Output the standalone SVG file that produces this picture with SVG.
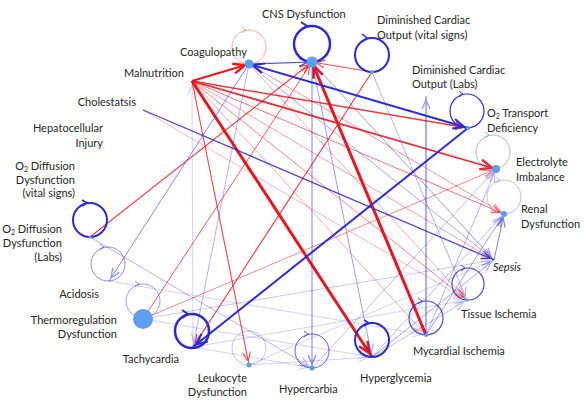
<svg xmlns="http://www.w3.org/2000/svg" width="584" height="400" viewBox="0 0 584 400">
<style>
text { font-family: Lato, "Liberation Sans", sans-serif; font-size: 11px; fill: #262626; }
.e { text-anchor: end; }
.sub { font-size: 7px; }
.r { stroke: #e8171f; fill: none; }
.b { stroke: #2b2bd6; fill: none; }
.dot { fill: #5e9ded; }
.lp { fill: none; stroke: #2b2bd6; }
</style>
<defs>
<marker id="mr" markerUnits="userSpaceOnUse" markerWidth="20" markerHeight="20" refX="13" refY="4" orient="auto" overflow="visible"><path d="M0,0 L9,4 L0,8" fill="none" stroke="#e8171f" stroke-width="1.2"/></marker>
<marker id="mR" markerUnits="userSpaceOnUse" markerWidth="24" markerHeight="24" refX="16" refY="5" orient="auto" overflow="visible"><path d="M0,0 L12,5 L0,10" fill="none" stroke="#e8171f" stroke-width="2.5"/></marker>
<marker id="mb" markerUnits="userSpaceOnUse" markerWidth="20" markerHeight="20" refX="13" refY="4" orient="auto-start-reverse" overflow="visible"><path d="M0,0 L9,4 L0,8" fill="none" stroke="#2b2bd6" stroke-width="1.2"/></marker>
<marker id="mB" markerUnits="userSpaceOnUse" markerWidth="24" markerHeight="24" refX="15" refY="5" orient="auto-start-reverse" overflow="visible"><path d="M0,0 L11,5 L0,10" fill="none" stroke="#2b2bd6" stroke-width="2"/></marker>
</defs>

<g id="connectors">
<!-- red -->
<line class="r" x1="192" y1="81" x2="372" y2="357" stroke-width="3" marker-end="url(#mR)"/>
<line class="r" x1="426" y1="335" x2="312" y2="62" stroke-width="3" marker-end="url(#mR)"/>
<line class="r" x1="192" y1="81" x2="249" y2="64" stroke-width="2" marker-end="url(#mR)"/>
<line class="r" x1="192" y1="81" x2="496" y2="169" stroke-width="1.8" opacity="0.9" marker-end="url(#mR)"/>
<line class="r" x1="192" y1="81" x2="468" y2="128" stroke-width="1.5" opacity="0.85" marker-end="url(#mr)"/>
<line class="r" x1="192" y1="81" x2="249" y2="365" stroke-width="1.2" opacity="0.75" marker-end="url(#mr)"/>
<line class="r" x1="90" y1="237" x2="312" y2="62" stroke-width="1.2" opacity="0.8" marker-end="url(#mr)"/>
<line class="r" x1="372" y1="72" x2="193" y2="347" stroke-width="1.2" opacity="0.8" marker-end="url(#mr)"/>
<line class="r" x1="372" y1="72" x2="312" y2="62" stroke-width="1.2" opacity="0.75" marker-end="url(#mr)"/>
<line class="r" x1="143" y1="319" x2="312" y2="62" stroke-width="1" opacity="0.7" marker-end="url(#mr)"/>
<line class="r" x1="143" y1="319" x2="496" y2="169" stroke-width="1" opacity="0.5" marker-end="url(#mr)"/>
<line class="r" x1="192" y1="81" x2="504" y2="214" stroke-width="1" opacity="0.6" marker-end="url(#mr)"/>
<line class="r" x1="192" y1="81" x2="467" y2="300" stroke-width="1" opacity="0.5" marker-end="url(#mr)"/>
<line class="r" x1="192" y1="81" x2="494" y2="260" stroke-width="1" opacity="0.4" marker-end="url(#mr)"/>
<line class="r" x1="249" y1="64" x2="504" y2="214" stroke-width="1" opacity="0.45" marker-end="url(#mr)"/>
<line class="r" x1="249" y1="64" x2="467" y2="300" stroke-width="1" opacity="0.35" marker-end="url(#mr)"/>
<line class="r" x1="192" y1="81" x2="426" y2="335" stroke-width="1" opacity="0.35" marker-end="url(#mr)"/>
<line class="r" x1="143" y1="110" x2="467" y2="300" stroke-width="1" opacity="0.3" marker-end="url(#mr)"/>
<!-- blue -->
<line class="b" x1="249" y1="64" x2="468" y2="128" stroke-width="2" marker-start="url(#mB)" marker-end="url(#mB)"/>
<line class="b" x1="468" y1="128" x2="193" y2="347" stroke-width="2" marker-end="url(#mB)"/>
<line class="b" x1="143" y1="110" x2="494" y2="260" stroke-width="1.3" opacity="0.85" marker-end="url(#mb)"/>
<line class="b" x1="249" y1="64" x2="312" y2="62" stroke-width="1.2" opacity="0.85" marker-end="url(#mb)"/>
<line class="b" x1="426" y1="335" x2="426" y2="96" stroke-width="1.5" opacity="0.5" marker-end="url(#mb)"/>
<line class="b" x1="312" y1="62" x2="312" y2="368" stroke-width="1" opacity="0.6" marker-end="url(#mb)"/>
<line class="b" x1="249" y1="64" x2="109" y2="281" stroke-width="1" opacity="0.55" marker-end="url(#mb)"/>
<line class="b" x1="193" y1="347" x2="192" y2="81" stroke-width="1" opacity="0.2" marker-end="url(#mb)"/>
<line class="b" x1="494" y1="260" x2="504" y2="214" stroke-width="1" opacity="0.6" marker-end="url(#mb)"/>
<line class="b" x1="426" y1="335" x2="504" y2="214" stroke-width="1" opacity="0.45" marker-end="url(#mb)"/>
<line class="b" x1="312" y1="62" x2="494" y2="260" stroke-width="1" opacity="0.45" marker-end="url(#mb)"/>
<line class="b" x1="372" y1="357" x2="494" y2="260" stroke-width="1" opacity="0.4" marker-end="url(#mb)"/>
<line class="b" x1="90" y1="237" x2="312" y2="368" stroke-width="1" opacity="0.35" marker-end="url(#mb)"/>
<line class="b" x1="143" y1="319" x2="494" y2="260" stroke-width="1" opacity="0.25" marker-end="url(#mb)"/>
<line class="b" x1="312" y1="62" x2="372" y2="357" stroke-width="1" opacity="0.45" marker-end="url(#mb)"/>
<line class="b" x1="249" y1="64" x2="494" y2="260" stroke-width="1" opacity="0.4" marker-end="url(#mb)"/>
<line class="b" x1="312" y1="368" x2="496" y2="169" stroke-width="1" opacity="0.3" marker-end="url(#mb)"/>
<line class="b" x1="372" y1="357" x2="504" y2="214" stroke-width="1" opacity="0.3" marker-end="url(#mb)"/>
<line class="b" x1="372" y1="357" x2="467" y2="300" stroke-width="1" opacity="0.3" marker-end="url(#mb)"/>
<line class="b" x1="249" y1="365" x2="494" y2="260" stroke-width="1" opacity="0.2" marker-end="url(#mb)"/>
<line class="b" x1="193" y1="347" x2="467" y2="300" stroke-width="1" opacity="0.2" marker-end="url(#mb)"/>
<line class="b" x1="109" y1="281" x2="426" y2="335" stroke-width="1" opacity="0.2" marker-end="url(#mb)"/>
<line class="b" x1="249" y1="64" x2="193" y2="347" stroke-width="1" opacity="0.35" marker-end="url(#mb)"/>
<line class="b" x1="143" y1="319" x2="372" y2="357" stroke-width="1" opacity="0.2" marker-end="url(#mb)"/>
<line class="b" x1="193" y1="347" x2="312" y2="368" stroke-width="1" opacity="0.2" marker-end="url(#mb)"/>
<line class="b" x1="249" y1="365" x2="372" y2="357" stroke-width="1" opacity="0.2" marker-end="url(#mb)"/>
<line class="b" x1="426" y1="335" x2="496" y2="169" stroke-width="1" opacity="0.35" marker-end="url(#mb)"/>
<line class="b" x1="372" y1="72" x2="467" y2="300" stroke-width="1" opacity="0.35" marker-end="url(#mb)"/>
</g>

<g id="coagulopathy">
<circle cx="249" cy="47" r="17" class="lp" style="stroke:#e8171f" stroke-width="1" opacity="0.35"/>
<path d="M242,27 L246,30 L242,33" class="lp" style="stroke:#e8171f" opacity="0.35"/>
<circle cx="249" cy="64" r="4.5" class="dot"/>
<text x="180" y="56">Coagulopathy</text>
</g>
<g id="cns">
<circle cx="312" cy="44" r="18" class="lp" stroke-width="2.5"/>
<path d="M301,22 L307,26 L301,30" class="lp" stroke-width="2"/>
<circle cx="312" cy="62" r="5.5" class="dot"/>
<text x="262" y="18">CNS Dysfunction</text>
</g>
<g id="dco-vital">
<circle cx="372" cy="55" r="17" class="lp" stroke-width="2"/>
<path d="M362,34 L367,38 L362,42" class="lp" stroke-width="1.6"/>
<circle cx="372" cy="72" r="2" class="dot"/>
<text x="377" y="24">Diminished Cardiac</text>
<text x="377" y="39">Output (vital signs)</text>
</g>
<g id="dco-labs">
<text x="412" y="74">Diminished Cardiac</text>
<text x="412" y="88">Output (Labs)</text>
</g>
<g id="o2-transport">
<circle cx="467" cy="111" r="17" class="lp" stroke-width="1.2"/>
<path d="M459,91 L463,94 L459,97" class="lp" stroke-width="1"/>
<circle cx="468" cy="128" r="2" class="dot"/>
<text x="487" y="117">O<tspan class="sub" baseline-shift="-2">2</tspan> Transport</text>
<text x="487" y="132">Deficiency</text>
</g>
<g id="electrolyte">
<circle cx="493" cy="152" r="17" class="lp" stroke-width="1" opacity="0.35"/>
<path d="M485,132 L489,135 L485,138" class="lp" opacity="0.35"/>
<circle cx="496" cy="169" r="4" class="dot"/>
<text x="516" y="166">Electrolyte</text>
<text x="516" y="181">Imbalance</text>
</g>
<g id="renal">
<circle cx="504" cy="197" r="17" class="lp" stroke-width="1" opacity="0.3"/>
<path d="M496,177 L500,180 L496,183" class="lp" opacity="0.3"/>
<circle cx="504" cy="214" r="3" class="dot"/>
<text x="521" y="213">Renal</text>
<text x="521" y="228">Dysfunction</text>
</g>
<g id="sepsis">
<text x="493" y="271" font-style="italic">Sepsis</text>
</g>
<g id="tissue-ischemia">
<circle cx="468" cy="284" r="16" class="lp" stroke-width="1.2" opacity="0.85"/>
<path d="M461,265 L465,268 L461,271" class="lp" opacity="0.85"/>
<circle cx="467" cy="300" r="1.5" class="dot"/>
<text x="461" y="318">Tissue Ischemia</text>
</g>
<g id="mycardial-ischemia">
<circle cx="426" cy="318" r="17" class="lp" stroke-width="1.2" opacity="0.85"/>
<path d="M418,298 L422,301 L418,304" class="lp" opacity="0.85"/>
<circle cx="426" cy="335" r="2" class="dot"/>
<text x="413" y="355">Mycardial Ischemia</text>
</g>
<g id="hyperglycemia">
<circle cx="372" cy="340" r="17" class="lp" stroke-width="2"/>
<path d="M364,320 L369,323 L364,326" class="lp" stroke-width="1.5"/>
<text x="360" y="382">Hyperglycemia</text>
</g>
<g id="hypercarbia">
<circle cx="312" cy="351" r="17" class="lp" stroke-width="1" opacity="0.75"/>
<path d="M304,331 L308,334 L304,337" class="lp" opacity="0.75"/>
<circle cx="312" cy="368" r="2.5" class="dot"/>
<text x="279" y="393">Hypercarbia</text>
</g>
<g id="leukocyte">
<circle cx="249" cy="348" r="17" class="lp" stroke-width="1" opacity="0.3"/>
<circle cx="249" cy="365" r="2.5" class="dot"/>
<text x="247" y="382" class="e">Leukocyte</text>
<text x="247" y="396" class="e">Dysfunction</text>
</g>
<g id="tachycardia">
<circle cx="192" cy="331" r="17" class="lp" stroke-width="2.5"/>
<path d="M182,310 L188,314 L182,318" class="lp" stroke-width="2"/>
<text x="179" y="363" class="e">Tachycardia</text>
</g>
<g id="thermoregulation">
<circle cx="143" cy="301" r="17" class="lp" stroke-width="1" opacity="0.45"/>
<path d="M135,281 L139,284 L135,287" class="lp" opacity="0.45"/>
<circle cx="143" cy="319" r="10" class="dot"/>
<text x="117" y="324" class="e">Thermoregulation</text>
<text x="117" y="338" class="e">Dysfunction</text>
</g>
<g id="acidosis">
<circle cx="108" cy="264" r="17" class="lp" stroke-width="1" opacity="0.55"/>
<path d="M100,244 L104,247 L100,250" class="lp" opacity="0.55"/>
<text x="99" y="298" class="e">Acidosis</text>
</g>
<g id="o2-diffusion-labs">
<circle cx="90" cy="220" r="17" class="lp" stroke-width="2"/>
<path d="M82,200 L87,203 L82,206" class="lp" stroke-width="1.6"/>
<circle cx="90" cy="237" r="1.5" class="dot"/>
<text x="62" y="233" class="e">O<tspan class="sub" baseline-shift="-2">2</tspan> Diffusion</text>
<text x="62" y="247" class="e">Dysfunction</text>
<text x="62" y="261" class="e">(Labs)</text>
</g>
<g id="o2-diffusion-vital">
<text x="75" y="170" class="e">O<tspan class="sub" baseline-shift="-2">2</tspan> Diffusion</text>
<text x="75" y="184" class="e">Dysfunction</text>
<text x="75" y="197" class="e">(vital signs)</text>
</g>
<g id="hepatocellular">
<text x="103" y="132" class="e">Hepatocellular</text>
<text x="103" y="147" class="e">Injury</text>
</g>
<g id="cholestatsis">
<text x="136" y="106" class="e">Cholestatsis</text>
</g>
<g id="malnutrition">
<text x="184" y="77" class="e">Malnutrition</text>
</g>
</svg>
